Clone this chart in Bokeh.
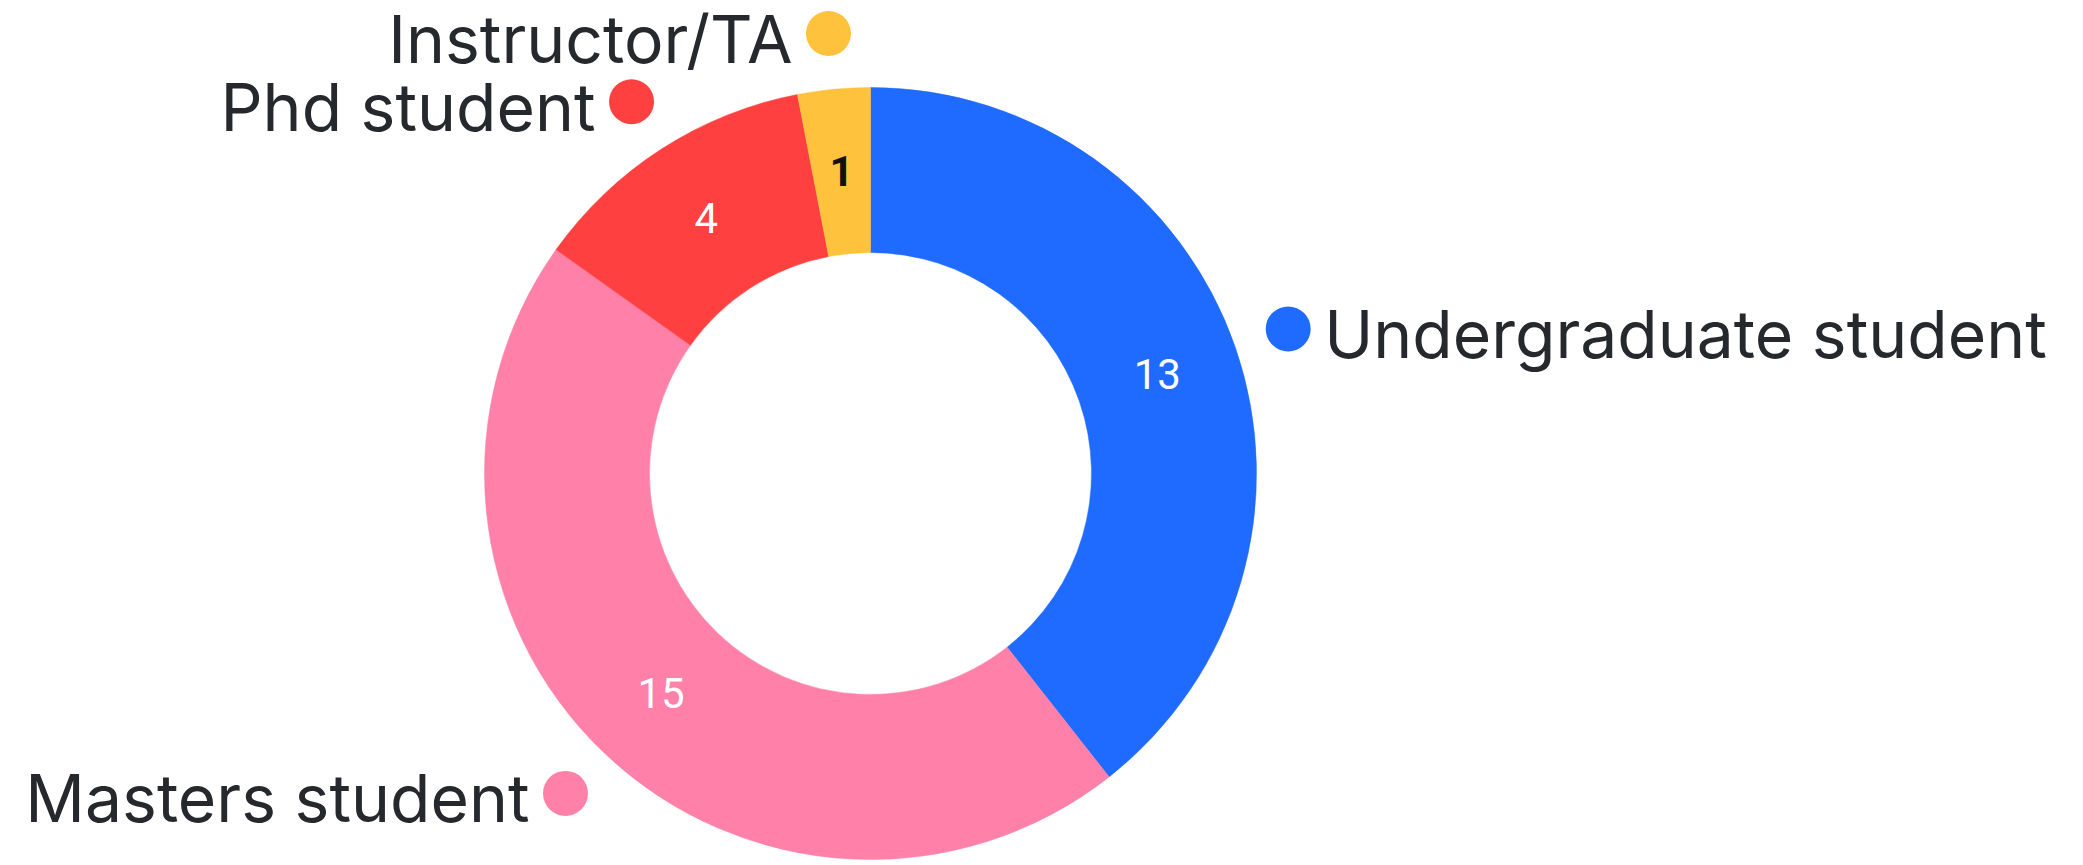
import math
from bokeh.plotting import figure
from bokeh.models import Range1d, ColumnDataSource, CDSView, BooleanFilter
from bokeh.core.properties import value
from bokeh.embed import file_html
from bokeh.resources import INLINE

# ---- data ----
categories = ["Undergraduate student", "Masters student", "Phd student", "Instructor/TA"]
counts = [13, 15, 4, 1]
colors = ["#1F6BFF", "#FF80A8", "#FF4040", "#FFC23C"]
count_label_colors = ["#FFFFFF", "#FFFFFF", "#FFFFFF", "#111111"]
count_label_bold = [False, False, False, True]

# ---- geometry / style ----
W, H = 2075, 865
CX, CY = 870, 865 - 473
R_IN, R_OUT = 221, 386
R_LABEL = 442

total = sum(counts)
starts, ends, mids = [], [], []
cum = 0
for c in counts:
    s = math.pi / 2 - 2 * math.pi * cum / total
    cum += c
    e = math.pi / 2 - 2 * math.pi * cum / total
    starts.append(s)
    ends.append(e)
    mids.append((s + e) / 2)

r_mid = (R_IN + R_OUT) / 2
vx = [CX + r_mid * math.cos(m) for m in mids]
vy = [CY + r_mid * math.sin(m) for m in mids]
dx = [CX + R_LABEL * math.cos(m) for m in mids]
dy = [CY + R_LABEL * math.sin(m) for m in mids]
tx = [x + (36 if math.cos(m) > 0 else -36) for x, m in zip(dx, mids)]
talign = ["left" if math.cos(m) > 0 else "right" for m in mids]

src = ColumnDataSource(dict(
    cat=categories, cnt=[str(c) for c in counts], color=colors, lc=count_label_colors,
    start=starts, end=ends, vx=vx, vy=vy, dx=dx, dy=dy, tx=tx, ty=dy, align=talign,
))

p = figure(width=W, height=H, output_backend="svg", toolbar_location=None,
           x_range=Range1d(0, W), y_range=Range1d(865 - H, 865),
           min_border=0, background_fill_color="white", border_fill_color="white")
p.axis.visible = False
p.grid.visible = False
p.outline_line_color = None

p.annular_wedge(x=CX, y=CY, inner_radius=R_IN, outer_radius=R_OUT,
                start_angle="start", end_angle="end", direction="clock",
                fill_color="color", line_color="color", line_width=0.5, source=src)

normal_view = CDSView(filter=BooleanFilter([not b for b in count_label_bold]))
bold_view = CDSView(filter=BooleanFilter(count_label_bold))

p.text(x="vx", y="vy", text="cnt", text_color="lc", text_align="center",
       text_baseline="middle", text_font=value("Roboto"),
       text_font_size="42px", source=src, view=normal_view)
p.text(x="vx", y="vy", text="cnt", text_color="lc", text_align="center",
       text_baseline="middle", text_font=value("Roboto"), text_font_style="bold",
       text_font_size="42px", source=src, view=bold_view)

p.scatter(x="dx", y="dy", size=45, fill_color="color", line_color=None, source=src)

p.text(x="tx", y="ty", text="cat", text_color="#25282D", text_align="align",
       text_baseline="middle", text_font=value("Inter"), text_font_size="66px",
       y_offset=5, source=src)

open("out.html", "w").write(file_html(p, INLINE))
